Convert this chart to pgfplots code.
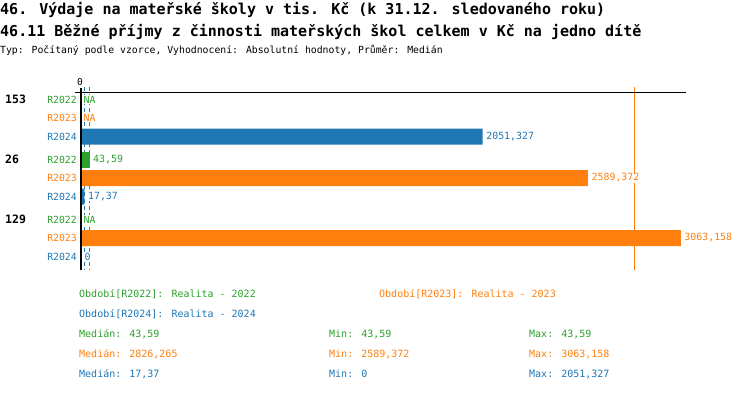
\documentclass[border=0pt]{standalone}
\usepackage{fontspec}
\setmainfont{DejaVu Sans Mono}
\usepackage{pgfplots}
\pgfplotsset{compat=1.18}
\definecolor{cG}{HTML}{2CA02C}
\definecolor{cO}{HTML}{FF7F0E}
\definecolor{cB}{HTML}{1F77B4}
\newcommand{\fs}[1]{\fontsize{#1bp}{#1bp}\selectfont}
\begin{document}
\begin{tikzpicture}[x=1bp,y=-1bp]
\path[use as bounding box] (0,0) rectangle (750,392);
\node[anchor=west,inner sep=0,font=\fs{15}\bfseries] at (0,10) {46. Výdaje na mateřské školy v tis. Kč (k 31.12. sledovaného roku)};
\node[anchor=west,inner sep=0,font=\fs{15}\bfseries] at (0,32) {46.11 Běžné příjmy z činnosti mateřských škol celkem v Kč na jedno dítě};
\node[anchor=west,inner sep=0,font=\fs{9.8}] at (0,50) {Typ: Počítaný podle vzorce, Vyhodnocení: Absolutní hodnoty, Průměr: Medián};
\begin{axis}[
  at={(81bp,-92bp)}, anchor=north west,
  scale only axis, width=605bp, height=178bp,
  xmin=0, xmax=3090, ymin=92, ymax=270, y dir=reverse,
  clip=false,
  axis line style={draw=none},
  major tick length=0pt,
  xtick={0}, xticklabels={0}, xticklabel pos=upper,
  xticklabel style={font=\fs{9.5}, anchor=south, inner sep=0pt, yshift=6bp, xshift=-1bp},
  ytick={99.5,118,136.5,159.5,178,196.5,219.5,238,256.5},
  yticklabels={\textcolor{cG}{R2022},\textcolor{cO}{R2023},\textcolor{cB}{R2024},
               \textcolor{cG}{R2022},\textcolor{cO}{R2023},\textcolor{cB}{R2024},
               \textcolor{cG}{R2022},\textcolor{cO}{R2023},\textcolor{cB}{R2024}},
  yticklabel style={font=\fs{9.8}, anchor=east, inner sep=0pt, xshift=-4bp},
  extra y ticks={99.5,159.5,219.5},
  extra y tick labels={153,26,129},
  extra y tick style={yticklabel style={font=\fs{11.5}\bfseries, anchor=west, inner sep=0pt, xshift=-72bp, text=black}},
  mybar/.style={xbar, bar shift=0pt, bar width=16, draw=none, nodes near coords, point meta=explicit symbolic,
    nodes near coords style={anchor=west, inner sep=0.5bp, fill=white, xshift=3bp, text=#1, font=\fs{9.9}}, fill=#1},
]
% median lines
\addplot[cG, line width=1bp, dash pattern=on 4bp off 3bp, mark=none] coordinates {(43.59,87) (43.59,270)};
\addplot[cB, line width=1bp, dash pattern=on 4bp off 3bp, mark=none] coordinates {(17.37,87) (17.37,270)};
\addplot[cO, line width=1bp, mark=none] coordinates {(2826.265,87) (2826.265,270)};
% bars
\addplot[mybar=cG] coordinates {(43.59,159.5) [43,59]};
\addplot[mybar=cO] coordinates {(2589.372,178) [2589,372] (3063.158,238) [3063,158]};
\addplot[mybar=cB] coordinates {(2051.327,136.5) [2051,327] (17.37,196.5) [17,37] (0,256.5) [0]};
% NA labels
\node[anchor=west, inner sep=0.5bp, fill=white, text=cG, font=\fs{9.9}] at (axis cs:10,99.5) {NA};
\node[anchor=west, inner sep=0.5bp, fill=white, text=cO, font=\fs{9.9}] at (axis cs:10,118) {NA};
\node[anchor=west, inner sep=0.5bp, fill=white, text=cG, font=\fs{9.9}] at (axis cs:10,219.5) {NA};
% axis lines
\draw[black, line width=1bp] (axis cs:-31,92) -- (axis cs:3090,92);
\draw[black, line width=2bp] (axis cs:0,88) -- (axis cs:0,270);
\end{axis}
\begin{scope}[every node/.style={anchor=west, inner sep=0, font=\fs{10}}]
\node[text=cG] at (79,294) {Období[R2022]: Realita - 2022};
\node[text=cO] at (379,294) {Období[R2023]: Realita - 2023};
\node[text=cB] at (79,314) {Období[R2024]: Realita - 2024};
\node[text=cG] at (79,334) {Medián: 43,59};
\node[text=cG] at (329,334) {Min: 43,59};
\node[text=cG] at (529,334) {Max: 43,59};
\node[text=cO] at (79,354) {Medián: 2826,265};
\node[text=cO] at (329,354) {Min: 2589,372};
\node[text=cO] at (529,354) {Max: 3063,158};
\node[text=cB] at (79,374) {Medián: 17,37};
\node[text=cB] at (329,374) {Min: 0};
\node[text=cB] at (529,374) {Max: 2051,327};
\end{scope}
\end{tikzpicture}
\end{document}
